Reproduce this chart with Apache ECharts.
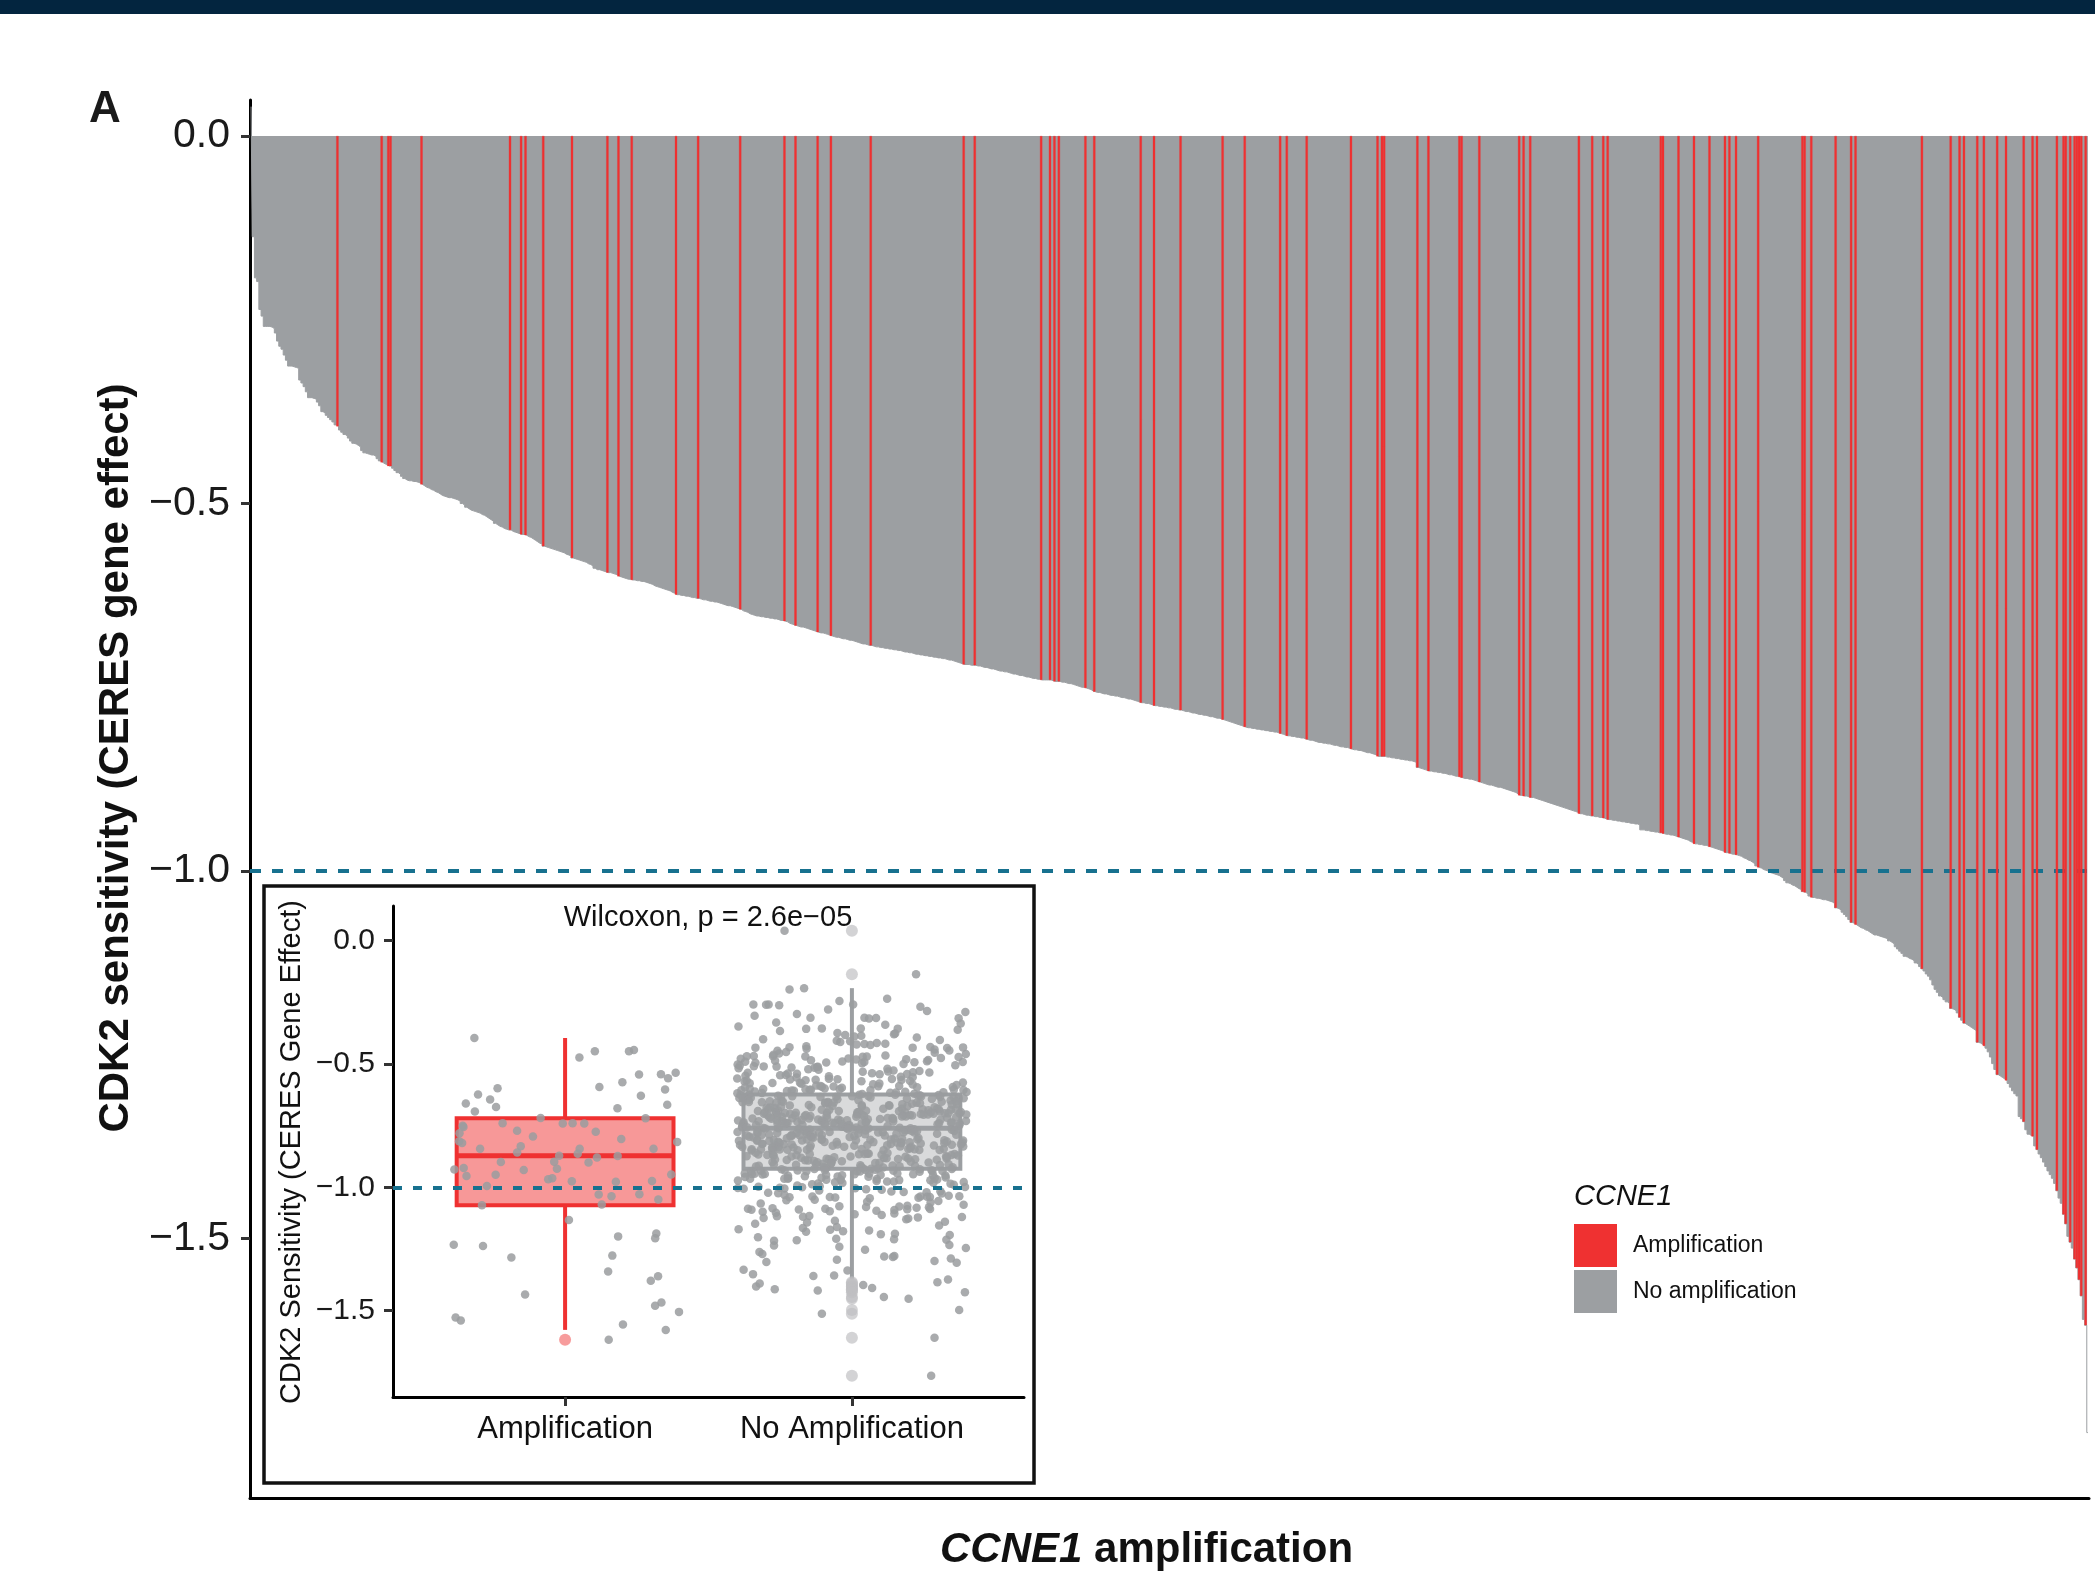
<!DOCTYPE html>
<html>
<head>
<meta charset="utf-8">
<title>CDK2 sensitivity by CCNE1 amplification</title>
<script src="https://cdn.jsdelivr.net/npm/echarts@6/dist/echarts.min.js"></script>
<style>
  html, body { margin: 0; padding: 0; background: #fff; }
  #chart { width: 2095px; height: 1581px; }
</style>
</head>
<body>
<div id="chart"></div>
<script>
// CERES gene effect of CDK2 per cell line, in the sorted order of panel A
const geneEffect = [
  0.04, -0.137, -0.193, -0.198, -0.236, -0.245, -0.259, -0.259, -0.259, -0.26,
  -0.262, -0.268, -0.279, -0.286, -0.29, -0.298, -0.305, -0.313, -0.313, -0.314,
  -0.315, -0.316, -0.332, -0.336, -0.341, -0.348, -0.356, -0.356, -0.357, -0.358,
  -0.362, -0.367, -0.375, -0.377, -0.38, -0.383, -0.386, -0.389, -0.393, -0.395,
  -0.4, -0.403, -0.406, -0.408, -0.411, -0.415, -0.418, -0.419, -0.421, -0.423,
  -0.428, -0.431, -0.432, -0.433, -0.434, -0.434, -0.436, -0.439, -0.442, -0.444,
  -0.446, -0.447, -0.449, -0.449, -0.452, -0.455, -0.458, -0.46, -0.463, -0.466,
  -0.468, -0.469, -0.469, -0.47, -0.47, -0.471, -0.472, -0.474, -0.476, -0.478,
  -0.479, -0.481, -0.482, -0.484, -0.485, -0.487, -0.489, -0.49, -0.491, -0.492,
  -0.492, -0.493, -0.494, -0.495, -0.497, -0.5, -0.502, -0.505, -0.507, -0.509,
  -0.51, -0.511, -0.512, -0.513, -0.515, -0.516, -0.518, -0.52, -0.522, -0.524,
  -0.527, -0.529, -0.531, -0.532, -0.534, -0.535, -0.536, -0.536, -0.538, -0.539,
  -0.54, -0.541, -0.542, -0.542, -0.543, -0.545, -0.546, -0.548, -0.55, -0.552,
  -0.554, -0.555, -0.558, -0.559, -0.56, -0.561, -0.562, -0.563, -0.564, -0.565,
  -0.566, -0.567, -0.569, -0.57, -0.571, -0.574, -0.575, -0.576, -0.577, -0.578,
  -0.579, -0.58, -0.582, -0.583, -0.585, -0.588, -0.59, -0.59, -0.591, -0.592,
  -0.593, -0.594, -0.594, -0.595, -0.596, -0.597, -0.599, -0.6, -0.601, -0.602,
  -0.603, -0.603, -0.604, -0.604, -0.605, -0.605, -0.606, -0.606, -0.607, -0.608,
  -0.609, -0.61, -0.612, -0.613, -0.614, -0.615, -0.616, -0.617, -0.618, -0.619,
  -0.621, -0.622, -0.624, -0.624, -0.625, -0.625, -0.626, -0.626, -0.627, -0.628,
  -0.628, -0.629, -0.629, -0.63, -0.631, -0.631, -0.632, -0.633, -0.633, -0.634,
  -0.634, -0.635, -0.636, -0.637, -0.638, -0.639, -0.639, -0.64, -0.641, -0.642,
  -0.643, -0.644, -0.646, -0.647, -0.648, -0.65, -0.651, -0.652, -0.653, -0.653,
  -0.654, -0.654, -0.655, -0.655, -0.656, -0.656, -0.657, -0.657, -0.658, -0.659,
  -0.659, -0.66, -0.661, -0.663, -0.664, -0.665, -0.666, -0.667, -0.668, -0.668,
  -0.669, -0.67, -0.671, -0.672, -0.673, -0.674, -0.675, -0.676, -0.676, -0.677,
  -0.678, -0.679, -0.68, -0.681, -0.682, -0.682, -0.683, -0.684, -0.684, -0.685,
  -0.686, -0.686, -0.687, -0.688, -0.689, -0.69, -0.691, -0.691, -0.692, -0.693,
  -0.693, -0.694, -0.695, -0.695, -0.696, -0.696, -0.697, -0.697, -0.698, -0.698,
  -0.699, -0.699, -0.7, -0.7, -0.701, -0.702, -0.702, -0.703, -0.703, -0.704,
  -0.705, -0.705, -0.706, -0.706, -0.707, -0.707, -0.708, -0.708, -0.709, -0.709,
  -0.71, -0.71, -0.711, -0.711, -0.712, -0.713, -0.713, -0.714, -0.715, -0.716,
  -0.717, -0.718, -0.719, -0.719, -0.719, -0.72, -0.72, -0.72, -0.721, -0.721,
  -0.722, -0.723, -0.723, -0.724, -0.725, -0.725, -0.726, -0.727, -0.728, -0.728,
  -0.729, -0.729, -0.73, -0.731, -0.732, -0.732, -0.733, -0.734, -0.734, -0.735,
  -0.736, -0.736, -0.737, -0.738, -0.738, -0.739, -0.739, -0.74, -0.74, -0.74,
  -0.74, -0.74, -0.741, -0.742, -0.742, -0.742, -0.743, -0.743, -0.744, -0.745,
  -0.745, -0.746, -0.747, -0.748, -0.749, -0.75, -0.75, -0.751, -0.752, -0.753,
  -0.755, -0.756, -0.757, -0.757, -0.758, -0.759, -0.759, -0.76, -0.761, -0.761,
  -0.762, -0.762, -0.763, -0.764, -0.764, -0.765, -0.766, -0.766, -0.767, -0.768,
  -0.769, -0.77, -0.771, -0.771, -0.772, -0.772, -0.773, -0.774, -0.775, -0.775,
  -0.776, -0.776, -0.777, -0.777, -0.778, -0.778, -0.779, -0.78, -0.78, -0.781,
  -0.781, -0.782, -0.783, -0.783, -0.784, -0.785, -0.785, -0.786, -0.787, -0.787,
  -0.788, -0.788, -0.789, -0.79, -0.79, -0.791, -0.792, -0.792, -0.793, -0.794,
  -0.795, -0.796, -0.797, -0.798, -0.799, -0.8, -0.801, -0.802, -0.803, -0.804,
  -0.805, -0.805, -0.806, -0.806, -0.807, -0.807, -0.808, -0.808, -0.809, -0.809,
  -0.81, -0.81, -0.811, -0.811, -0.812, -0.813, -0.814, -0.815, -0.816, -0.816,
  -0.817, -0.817, -0.818, -0.818, -0.819, -0.819, -0.82, -0.821, -0.822, -0.822,
  -0.823, -0.824, -0.825, -0.825, -0.826, -0.826, -0.827, -0.827, -0.828, -0.829,
  -0.829, -0.83, -0.831, -0.831, -0.832, -0.832, -0.833, -0.834, -0.835, -0.835,
  -0.836, -0.836, -0.837, -0.838, -0.839, -0.839, -0.84, -0.841, -0.842, -0.844,
  -0.844, -0.844, -0.844, -0.845, -0.845, -0.846, -0.846, -0.847, -0.847, -0.848,
  -0.848, -0.849, -0.849, -0.85, -0.85, -0.851, -0.852, -0.859, -0.86, -0.861,
  -0.862, -0.863, -0.864, -0.864, -0.865, -0.865, -0.866, -0.866, -0.867, -0.867,
  -0.868, -0.869, -0.869, -0.87, -0.871, -0.871, -0.872, -0.873, -0.874, -0.874,
  -0.875, -0.875, -0.876, -0.877, -0.878, -0.879, -0.88, -0.881, -0.882, -0.883,
  -0.883, -0.884, -0.885, -0.886, -0.886, -0.887, -0.888, -0.889, -0.89, -0.891,
  -0.892, -0.893, -0.895, -0.897, -0.897, -0.898, -0.898, -0.899, -0.9, -0.9,
  -0.901, -0.902, -0.903, -0.904, -0.905, -0.906, -0.907, -0.908, -0.909, -0.91,
  -0.911, -0.912, -0.913, -0.914, -0.915, -0.916, -0.917, -0.918, -0.919, -0.92,
  -0.922, -0.922, -0.923, -0.924, -0.924, -0.925, -0.925, -0.926, -0.926, -0.927,
  -0.927, -0.928, -0.929, -0.93, -0.93, -0.931, -0.931, -0.932, -0.932, -0.933,
  -0.933, -0.934, -0.934, -0.935, -0.935, -0.936, -0.936, -0.937, -0.944, -0.944,
  -0.945, -0.945, -0.946, -0.946, -0.947, -0.947, -0.948, -0.948, -0.949, -0.95,
  -0.95, -0.951, -0.951, -0.952, -0.953, -0.954, -0.955, -0.956, -0.957, -0.958,
  -0.96, -0.961, -0.963, -0.963, -0.964, -0.964, -0.965, -0.965, -0.966, -0.967,
  -0.968, -0.969, -0.97, -0.971, -0.972, -0.973, -0.975, -0.975, -0.976, -0.977,
  -0.977, -0.978, -0.979, -0.98, -0.982, -0.983, -0.985, -0.986, -0.988, -0.99,
  -0.993, -0.995, -0.996, -0.998, -0.999, -1.0, -1.002, -1.003, -1.004, -1.005,
  -1.006, -1.008, -1.01, -1.013, -1.016, -1.017, -1.019, -1.02, -1.022, -1.024,
  -1.025, -1.028, -1.029, -1.031, -1.034, -1.036, -1.036, -1.037, -1.037, -1.038,
  -1.039, -1.039, -1.04, -1.041, -1.042, -1.044, -1.05, -1.051, -1.053, -1.056,
  -1.059, -1.062, -1.066, -1.07, -1.071, -1.073, -1.075, -1.077, -1.078, -1.08,
  -1.081, -1.083, -1.085, -1.087, -1.087, -1.088, -1.089, -1.09, -1.091, -1.092,
  -1.095, -1.097, -1.099, -1.103, -1.106, -1.109, -1.112, -1.116, -1.117, -1.119,
  -1.12, -1.122, -1.125, -1.127, -1.13, -1.133, -1.136, -1.14, -1.143, -1.148,
  -1.155, -1.161, -1.165, -1.17, -1.172, -1.175, -1.178, -1.18, -1.187, -1.188,
  -1.19, -1.193, -1.199, -1.203, -1.207, -1.209, -1.211, -1.213, -1.215, -1.217,
  -1.233, -1.234, -1.236, -1.238, -1.241, -1.246, -1.253, -1.262, -1.27, -1.277,
  -1.279, -1.281, -1.283, -1.285, -1.289, -1.294, -1.299, -1.303, -1.306, -1.334,
  -1.337, -1.341, -1.352, -1.358, -1.36, -1.361, -1.374, -1.379, -1.385, -1.39,
  -1.396, -1.402, -1.408, -1.413, -1.418, -1.425,
  -1.435, -1.445, -1.452, -1.467, -1.48, -1.497, -1.505, -1.513, -1.528, -1.54,
  -1.556, -1.578, -1.61, -1.618, -1.764
];

// bars (positions in geneEffect) that carry a CCNE1 amplification
const ampIndex = [
  39, 59, 62, 63, 77, 117, 122, 124, 132, 145, 161, 166, 172, 192, 202, 221, 241, 246,
  256, 262, 280, 322, 327, 357, 361, 363, 365, 377, 381, 402, 408, 420, 439, 449, 465,
  468, 477, 497, 509, 511, 512, 527, 532, 546, 547, 555, 573, 575, 578, 600, 606, 611,
  613, 637, 638, 645, 652, 659, 666, 668, 671, 681, 701, 702, 705, 716, 723, 725, 755,
  768, 772, 774, 780, 783, 789, 793, 801, 805, 807, 816, 819, 820, 822, 824, 825, 826,
  827, 829
];

const yTicks = [0, -0.5, -1, -1.5];
const insetGroups = ['Amplification', 'No Amplification'];
// inset boxplots: [lower whisker, Q1, median, Q3, upper whisker]
const boxAmp = [-1.578, -1.073, -0.872, -0.72, -0.395];
const boxNoAmp = [-1.374, -0.925, -0.761, -0.624, -0.193];
const cutoff = -1.0;
const pText = 'Wilcoxon, p = 2.6e\u221205';

const RED = '#ef3131';
const GREY = '#9c9fa2';
const DASH = '#17718f';
const FONT = '"Liberation Sans", Arial, Helvetica, sans-serif';

const ampSet = new Set(ampIndex);
const cats = geneEffect.map((v, i) => i);
const ampBars = geneEffect.map((v, i) => ampSet.has(i) ? v : '-');

const ampVals = geneEffect.filter((v, i) => ampSet.has(i));
const noAmpVals = geneEffect.filter((v, i) => !ampSet.has(i));

// fixed hash used only for the horizontal spread of the inset points
function spreadPos(k) {
  const s = Math.sin(k * 127.1 + 311.7) * 43758.5453;
  return s - Math.floor(s);
}
function spread(vals, pos, seed) {
  return vals.map((v, k) => [pos + (spreadPos(k + seed) - 0.5) * 0.8, v]);
}
function outliers(vals, box, pos) {
  return vals.filter(v => v < box[0] || v > box[4]).map(v => [pos, v]);
}

const minusFmt = v => v.toFixed(1).replace('-', '\u2212');

function renderBox(params, api) {
  const x = api.value(0);
  const half = 0.378;
  const isAmp = params.dataIndex === 0;
  const col = isAmp ? RED : GREY;
  const fill = isAmp ? 'rgba(239,49,49,0.5)' : 'rgba(170,172,175,0.45)';
  const lo = api.coord([x, api.value(1)]);
  const q1 = api.coord([x, api.value(2)]);
  const med = api.coord([x, api.value(3)]);
  const q3 = api.coord([x, api.value(4)]);
  const hi = api.coord([x, api.value(5)]);
  const xl = api.coord([x - half, 0])[0];
  const xr = api.coord([x + half, 0])[0];
  const ls = { stroke: col, lineWidth: 4 };
  return {
    type: 'group',
    children: [
      { type: 'line', shape: { x1: hi[0], y1: hi[1], x2: q3[0], y2: q3[1] }, style: ls },
      { type: 'line', shape: { x1: q1[0], y1: q1[1], x2: lo[0], y2: lo[1] }, style: ls },
      { type: 'rect', shape: { x: xl, y: q3[1], width: xr - xl, height: q1[1] - q3[1] },
        style: { fill: fill, stroke: col, lineWidth: 4 } },
      { type: 'line', shape: { x1: xl, y1: med[1], x2: xr, y2: med[1] },
        style: { stroke: col, lineWidth: 5 } }
    ]
  };
}

const chart = echarts.init(document.getElementById('chart'));
chart.setOption({
  animation: false,
  backgroundColor: '#fff',
  textStyle: { fontFamily: FONT },
  title: {
    text: '{i|CCNE1} amplification',
    left: 935,
    top: 1524,
    textStyle: {
      fontSize: 42, fontWeight: 'bold', color: '#111',
      rich: { i: { fontSize: 42, fontWeight: 'bold', fontStyle: 'italic', color: '#111' } }
    }
  },
  legend: {
    data: ['Amplification', 'No amplification'],
    orient: 'vertical',
    left: 1569,
    top: 1219,
    icon: 'rect',
    itemWidth: 43,
    itemHeight: 43,
    itemGap: 3,
    selectedMode: false,
    itemStyle: { borderWidth: 0 },
    lineStyle: { width: 0 },
    textStyle: { fontSize: 23, color: '#111', padding: [0, 0, 0, 11] }
  },
  grid: [
    { left: 250, top: 100, width: 1839, height: 1398 },
    { left: 393, top: 906, width: 631, height: 491 }
  ],
  xAxis: [
    {
      type: 'category', data: cats, gridIndex: 0,
      axisLine: { onZero: false, lineStyle: { color: '#000', width: 3 } },
      axisTick: { show: false }, axisLabel: { show: false }, splitLine: { show: false }
    },
    {
      type: 'value', gridIndex: 1, min: 0.4, max: 2.6,
      axisLine: { onZero: false, lineStyle: { color: '#000', width: 3 } },
      axisTick: { customValues: [1, 2], length: 9, lineStyle: { color: '#333', width: 3 } },
      axisLabel: {
        customValues: [1, 2], formatter: v => insetGroups[Math.round(v) - 1],
        fontSize: 31, color: '#111', margin: 17
      },
      splitLine: { show: false }
    }
  ],
  yAxis: [
    {
      type: 'value', gridIndex: 0, min: -1.853, max: 0.049,
      axisLine: { show: true, lineStyle: { color: '#000', width: 3 } },
      axisTick: { show: true, customValues: yTicks, length: 9, lineStyle: { color: '#333', width: 3 } },
      axisLabel: { customValues: yTicks, formatter: minusFmt, fontSize: 41, color: '#1a1a1a', margin: 20 },
      splitLine: { show: false }
    },
    {
      type: 'value', gridIndex: 1, min: -1.85, max: 0.14,
      axisLine: { show: true, lineStyle: { color: '#000', width: 3 } },
      axisTick: { show: true, customValues: yTicks, length: 9, lineStyle: { color: '#333', width: 3 } },
      axisLabel: { customValues: yTicks, formatter: minusFmt, fontSize: 30, color: '#1a1a1a', margin: 18 },
      splitLine: { show: false }
    }
  ],
  series: [
    {
      // every cell line as one stepped grey area (one step per bar), amplified ones painted over in red
      name: 'No amplification', type: 'line', xAxisIndex: 0, yAxisIndex: 0, z: 2,
      data: geneEffect, step: 'middle', symbol: 'none', silent: true,
      itemStyle: { color: GREY },
      lineStyle: { color: GREY, width: 1 },
      areaStyle: { color: GREY, opacity: 1, origin: 'auto' }
    },
    {
      name: 'Amplification', type: 'bar', xAxisIndex: 0, yAxisIndex: 0, z: 6,
      data: ampBars, barWidth: 2.3,
      itemStyle: { color: RED, borderColor: RED, borderWidth: 0.3 },
      markLine: {
        silent: true, symbol: 'none', label: { show: false },
        lineStyle: { color: DASH, type: [11, 11], width: 4 },
        data: [{ yAxis: cutoff }]
      }
    },
    {
      type: 'custom', xAxisIndex: 1, yAxisIndex: 1, z: 3,
      renderItem: renderBox,
      encode: { x: 0, y: [1, 2, 3, 4, 5] },
      data: [[1].concat(boxAmp), [2].concat(boxNoAmp)]
    },
    {
      type: 'scatter', xAxisIndex: 1, yAxisIndex: 1, z: 4,
      symbolSize: 8.5, silent: true,
      itemStyle: { color: '#9a9c9f', opacity: 0.85 },
      data: spread(ampVals, 1, 1).concat(spread(noAmpVals, 2, 500)),
      markLine: {
        silent: true, symbol: 'none', label: { show: false },
        lineStyle: { color: DASH, type: [9, 11], width: 4 },
        data: [{ yAxis: cutoff }]
      }
    },
    {
      type: 'scatter', xAxisIndex: 1, yAxisIndex: 1, z: 5,
      symbolSize: 12, silent: true,
      itemStyle: { color: 'rgba(239,49,49,0.6)' },
      data: outliers(ampVals, boxAmp, 1)
    },
    {
      type: 'scatter', xAxisIndex: 1, yAxisIndex: 1, z: 5,
      symbolSize: 12, silent: true,
      itemStyle: { color: 'rgba(190,191,193,0.85)' },
      data: outliers(noAmpVals, boxNoAmp, 2)
    }
  ],
  graphic: [
    { type: 'rect', shape: { x: 0, y: 0, width: 2095, height: 14 }, style: { fill: '#03253f' } },
    { type: 'text', x: 89, y: 110,
      style: { text: 'A', font: 'bold 44px ' + FONT, fill: '#1a1a1a', verticalAlign: 'middle', textVerticalAlign: 'middle' } },
    { type: 'text', x: 116, y: 758, rotation: Math.PI / 2,
      style: { text: 'CDK2 sensitivity (CERES gene effect)', font: 'bold 42px ' + FONT, fill: '#111',
        align: 'center', textAlign: 'center', verticalAlign: 'middle', textVerticalAlign: 'middle' } },
    { type: 'rect', z: 1, shape: { x: 264, y: 886, width: 770, height: 597 },
      style: { fill: null, stroke: '#111', lineWidth: 3.5 } },
    { type: 'text', x: 292, y: 1152, rotation: Math.PI / 2,
      style: { text: 'CDK2 Sensitivity (CERES Gene Effect)', font: '29px ' + FONT, fill: '#111',
        align: 'center', textAlign: 'center', verticalAlign: 'middle', textVerticalAlign: 'middle' } },
    { type: 'text', x: 708, y: 918,
      style: { text: pText, font: '29px ' + FONT, fill: '#111',
        align: 'center', textAlign: 'center', verticalAlign: 'middle', textVerticalAlign: 'middle' } },
    { type: 'text', x: 1574, y: 1197,
      style: { text: 'CCNE1', font: 'italic 29px ' + FONT, fill: '#111', verticalAlign: 'middle', textVerticalAlign: 'middle' } }
  ]
});
window.addEventListener('resize', function () { chart.resize(); });
</script>
</body>
</html>
